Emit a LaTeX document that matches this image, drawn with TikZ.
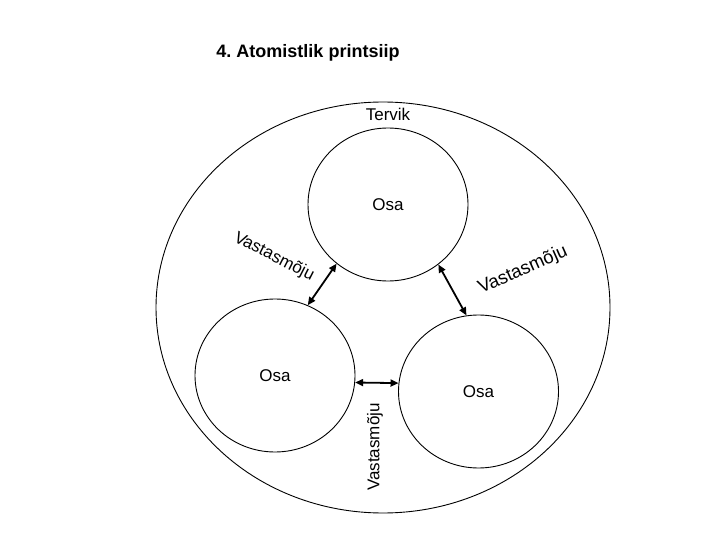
\documentclass[tikz,border=0pt]{standalone}
\usepackage{fontspec}
\setmainfont{Liberation Sans}
\usetikzlibrary{shapes.geometric,arrows.meta}
\frenchspacing
\begin{document}
\begin{tikzpicture}[x=1pt,y=-1pt,
  txt/.style={inner sep=0pt,font=\fontsize{17}{20}\selectfont},
  part/.style={draw,ellipse,line width=0.9pt,minimum width=160pt,minimum height=153pt,inner sep=0pt,font=\fontsize{17}{20}\selectfont},
  link/.style={line width=1.8pt,{Triangle[length=8pt,width=7pt]}-{Triangle[length=8pt,width=7pt]}}]
\useasboundingbox (0,0) rectangle (720,540);
\node[draw,ellipse,line width=0.9pt,minimum width=454pt,minimum height=411pt,inner sep=0pt] (whole) at (383,307.5) {};
\node[font=\bfseries\fontsize{18}{21}\selectfont,inner sep=0pt] (title) at (308,53) {4.\ Atomistlik printsiip};
\node[txt] (tervik) at (388,114) {Tervik};
\node[part] (top) at (388,204.5) {Osa};
\node[part] (left) at (275,375.5) {Osa};
\node[part] (right) at (478.5,391.5) {Osa};
\draw[link] (top.229) -- (left.65);
\draw[link] (top.310) -- (right.99);
\draw[link] (left.-5) -- (right.174);
\node[txt,rotate=-27] (l1) at (274,257) {Vastasmõju};
\node[txt,rotate=24,font=\fontsize{18.5}{21}\selectfont] (l2) at (523,270) {Vastasmõju};
\node[txt,rotate=90] (l3) at (375,447) {Vastasmõju};
\end{tikzpicture}
\end{document}
